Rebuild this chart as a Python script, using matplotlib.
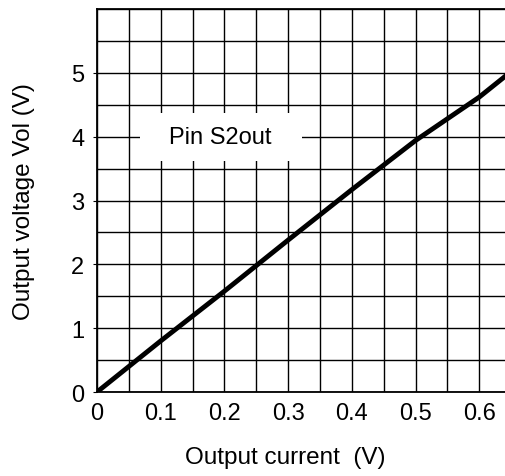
import matplotlib.pyplot as plt
from matplotlib.patches import Rectangle
from matplotlib.ticker import MultipleLocator

plt.rcParams['font.family'] = ['Liberation Sans', 'DejaVu Sans']

# data
current = [0, 0.1, 0.2, 0.3, 0.4, 0.5, 0.6, 0.65]
voltage = [0, 0.8, 1.58, 2.38, 3.17, 3.94, 4.62, 5.02]
xticks = [0, 0.1, 0.2, 0.3, 0.4, 0.5, 0.6]
xlabels = ['0', '0.1', '0.2', '0.3', '0.4', '0.5', '0.6']
yticks = [0, 1, 2, 3, 4, 5]

fig = plt.figure(figsize=(5.06, 4.77), dpi=100)
ax = fig.add_axes([97/506, 1-393/477, 1-97/506, (393-10)/477])

ax.set_xlim(0, 0.642)
ax.set_ylim(0, 6)
ax.xaxis.set_minor_locator(MultipleLocator(0.05))
ax.yaxis.set_minor_locator(MultipleLocator(0.5))
ax.grid(which='both', color='black', linewidth=1.0, zorder=1)
ax.set_axisbelow(True)

ax.plot(current, voltage, color='black', linewidth=3.5, zorder=3, solid_capstyle='round')

# white box behind the series label
ax.add_patch(Rectangle((0.0675, 3.62), 0.255, 0.75, facecolor='white',
                       edgecolor='none', zorder=2))
ax.text(0.193, 4.0, 'Pin S2out', fontsize=17, ha='center', va='center', zorder=4)

ax.set_xticks(xticks)
ax.set_xticklabels(xlabels)
ax.set_yticks(yticks)
ax.tick_params(axis='x', which='both', length=0, pad=7, labelsize=17)
ax.tick_params(axis='y', which='major', length=3, pad=6, labelsize=17)
ax.tick_params(axis='y', which='minor', length=0)

for s in ['left', 'bottom', 'top']:
    ax.spines[s].set_linewidth(1.3)
ax.spines['right'].set_visible(False)

ax.set_xlabel('Output current  (V)', fontsize=17.5)
ax.set_ylabel('Output voltage Vol (V)', fontsize=17.5)
ax.xaxis.set_label_coords(0.46, -0.142)
ax.yaxis.set_label_coords(-0.152, 0.5)

plt.savefig('out.png', dpi=100)
